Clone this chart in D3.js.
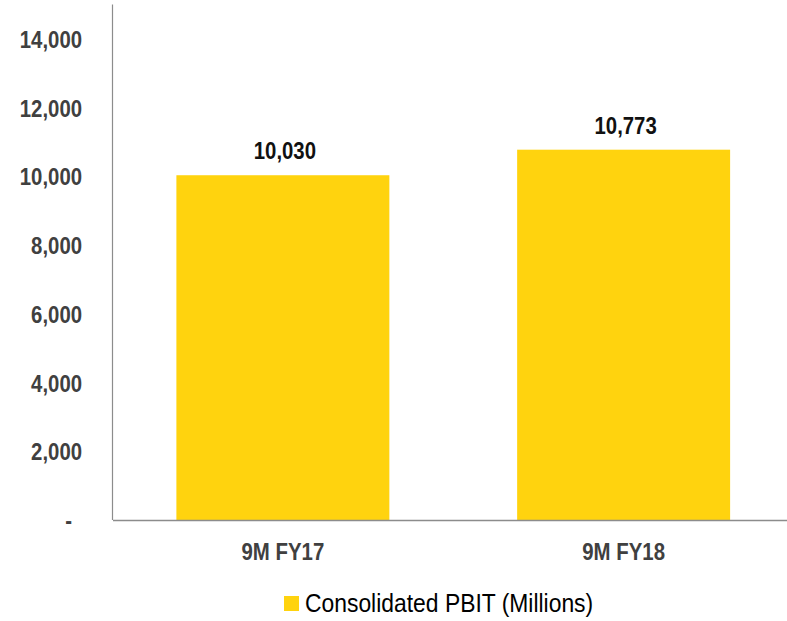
<!DOCTYPE html>
<html>
<head>
<meta charset="utf-8">
<script src="https://cdn.jsdelivr.net/npm/d3@7"></script>
<style>
  html, body { margin: 0; padding: 0; background: #fff; }
  svg { display: block; }
  text { font-family: "Liberation Sans Narrow", "Arial Narrow", "Liberation Sans", Arial, sans-serif; }
</style>
</head>
<body>
<svg id="chart" width="787" height="621"></svg>
<script>
const categories = ["9M FY17", "9M FY18"];
const values = [10030, 10773];
const seriesName = "Consolidated PBIT (Millions)";
const yTicks = [0, 2000, 4000, 6000, 8000, 10000, 12000, 14000];
const yMax = 15000;

const svg = d3.select("#chart");
const plot = { left: 112.5, right: 794, top: 4.4, bottom: 520 };

const x = d3.scaleBand().domain(categories)
  .range([plot.left, plot.right])
  .paddingInner(0.375).paddingOuter(0.1875);
const y = d3.scaleLinear().domain([0, yMax]).range([plot.bottom, plot.top]);

const fmt = d3.format(",");
const barColor = "#FFD30E";
const axisColor = "#8c8c8c";
const tickColor = "#404040";

// narrow the text horizontally (emulating a condensed face)
function condense(sel, k) {
  sel.each(function () {
    const w = this.getComputedTextLength();
    if (w > 0) {
      d3.select(this).attr("textLength", w * k).attr("lengthAdjust", "spacingAndGlyphs");
    }
  });
}

// bars
svg.append("g").selectAll("rect").data(values).join("rect")
  .attr("x", (d, i) => x(categories[i]))
  .attr("y", d => y(d))
  .attr("width", x.bandwidth())
  .attr("height", d => y(0) - y(d))
  .attr("fill", barColor);

// value labels
svg.append("g").selectAll("text").data(values).join("text")
  .attr("x", (d, i) => x(categories[i]) + x.bandwidth() / 2 + 2)
  .attr("y", d => y(d) - 16)
  .attr("text-anchor", "middle")
  .attr("font-size", 24.5)
  .attr("font-weight", "bold")
  .attr("fill", "#111")
  .text(d => fmt(d))
  .call(condense, 0.83);

// y axis
const yAxis = d3.axisLeft(y).tickValues(yTicks).tickSize(0)
  .tickFormat(d => d === 0 ? "-" : fmt(d));
const gy = svg.append("g").attr("transform", `translate(${plot.left},0)`).call(yAxis);
gy.attr("font-family", null).attr("font-size", null);
gy.select(".domain").remove();
gy.selectAll(".tick text")
  .attr("x", d => d === 0 ? -40.5 : -30.5)
  .attr("dy", "0.35em")
  .attr("font-size", 24.5)
  .attr("font-weight", "bold")
  .attr("fill", tickColor)
  .call(condense, 0.83);

// y axis line
svg.append("line")
  .attr("x1", plot.left).attr("x2", plot.left)
  .attr("y1", plot.top).attr("y2", plot.bottom)
  .attr("stroke", axisColor).attr("stroke-width", 1.2);

// x axis
const xAxis = d3.axisBottom(x).tickSize(0);
const gx = svg.append("g").attr("transform", `translate(0,${plot.bottom})`).call(xAxis);
gx.attr("font-family", null).attr("font-size", null);
gx.select(".domain").attr("stroke", axisColor).attr("stroke-width", 1.5);
gx.selectAll(".tick text")
  .attr("y", 32)
  .attr("dy", "0.35em")
  .attr("font-size", 24)
  .attr("font-weight", "bold")
  .attr("fill", tickColor)
  .call(condense, 0.85);

// legend
const lg = svg.append("g").attr("transform", "translate(284,596)");
lg.append("rect").attr("width", 15).attr("height", 15).attr("fill", barColor);
lg.append("text").attr("x", 21).attr("y", 7.5).attr("dy", "0.35em")
  .attr("font-size", 25).attr("fill", "#000").text(seriesName)
  .call(condense, 0.915);
</script>
</body>
</html>
